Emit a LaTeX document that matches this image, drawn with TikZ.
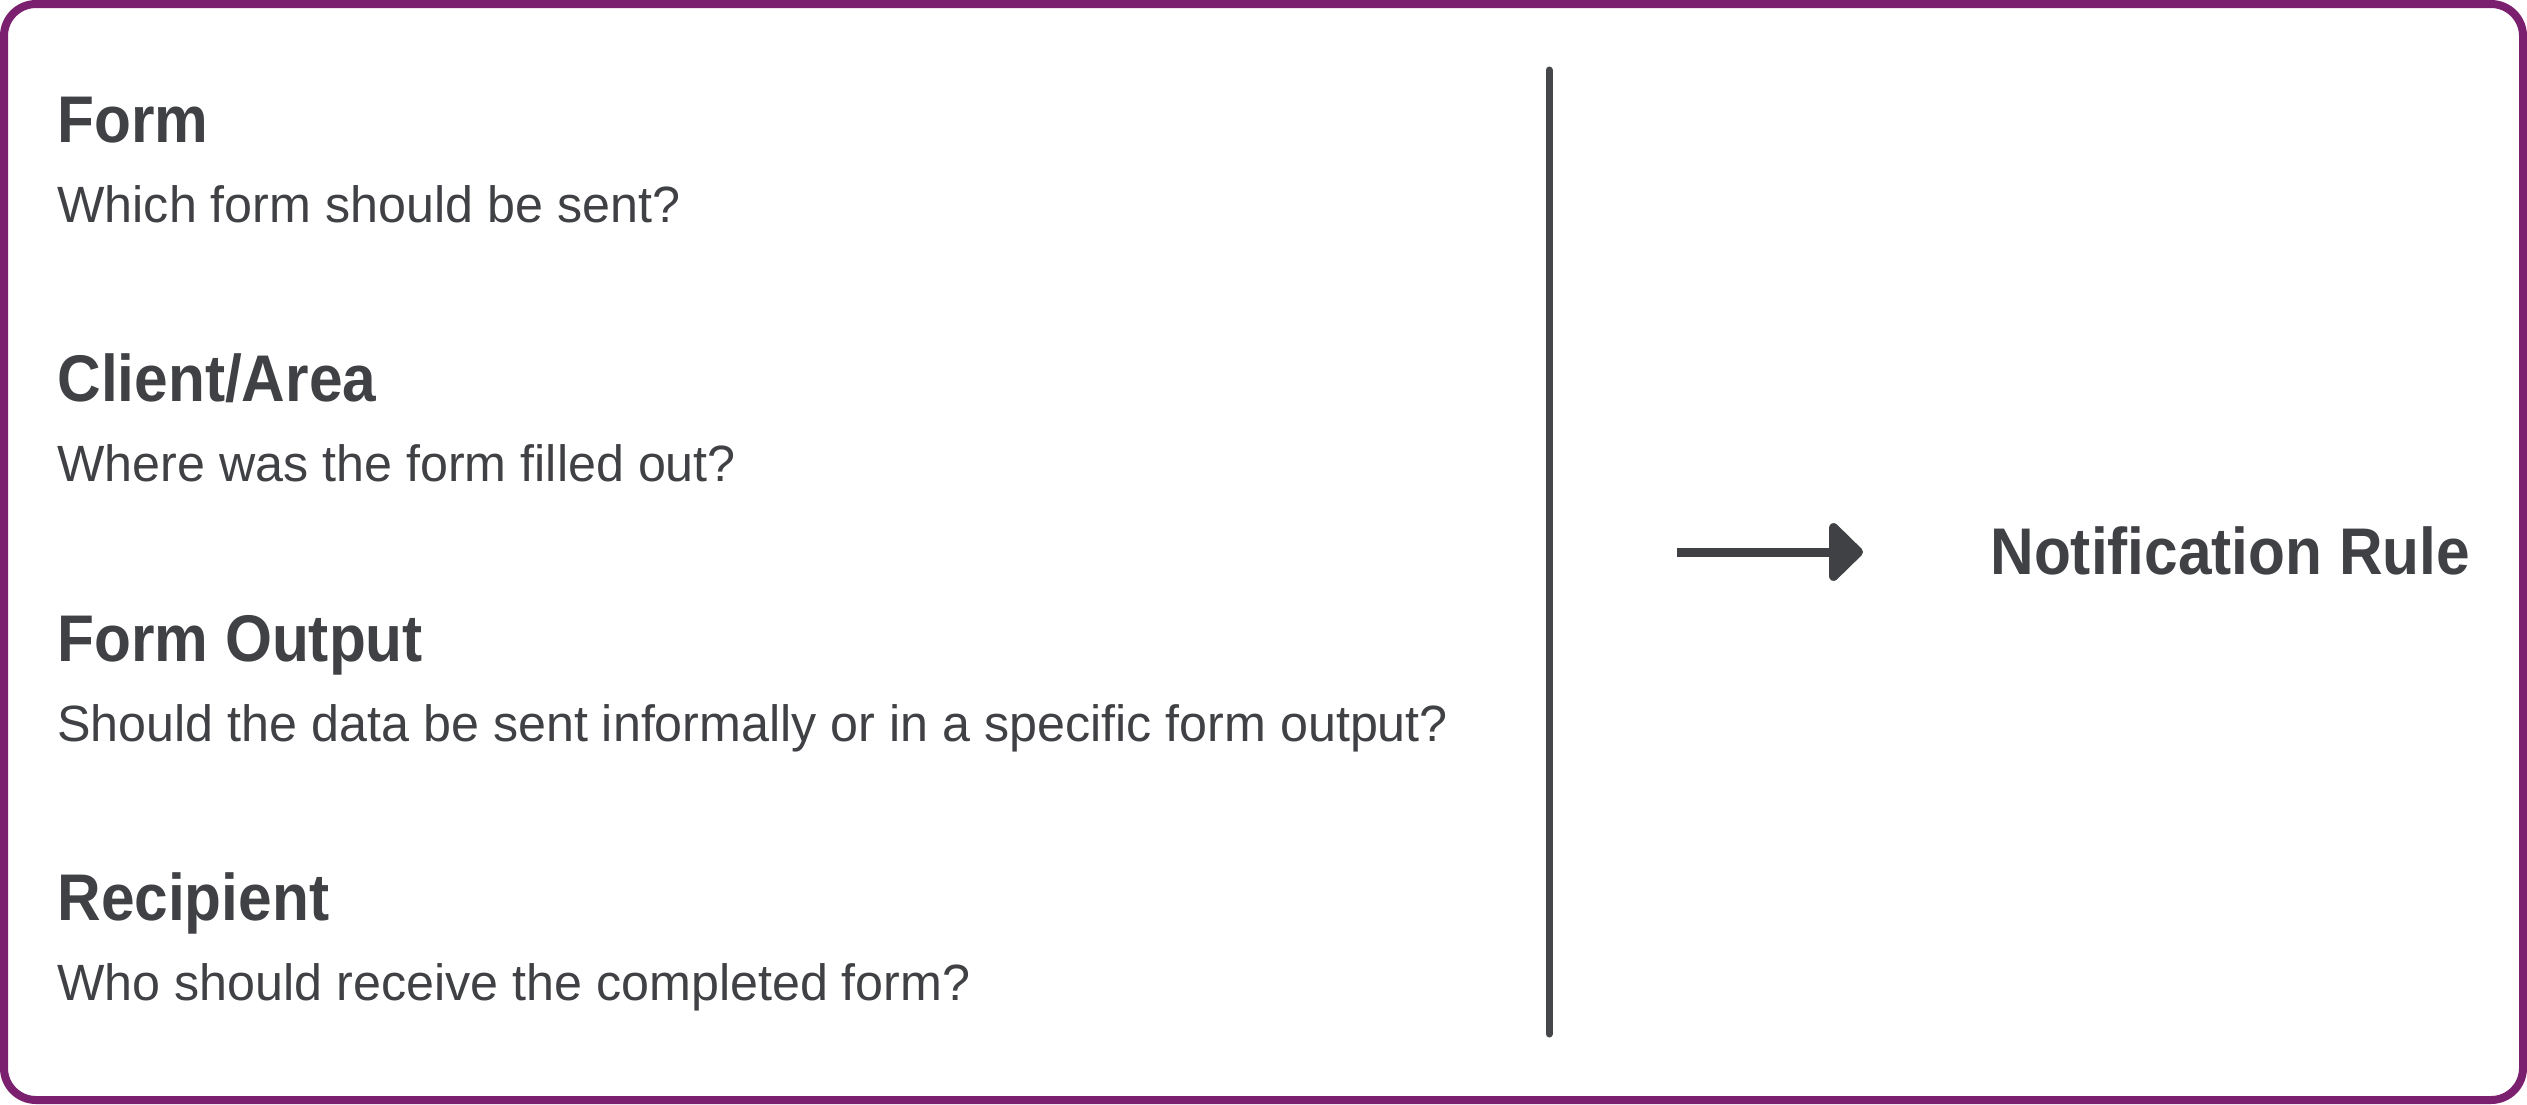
\documentclass[tikz,border=0pt]{standalone}
\usepackage{fontspec}
\setmainfont{Liberation Sans}[FakeStretch=0.985,BoldFeatures={FakeStretch=0.915}]
\usetikzlibrary{arrows.meta}
\definecolor{frame}{HTML}{7B1F6F}
\definecolor{ink}{HTML}{404145}
\definecolor{rule}{HTML}{46474B}
\tikzset{
  head/.style={anchor=base west,inner sep=0pt,text=ink,font=\bfseries\fontsize{33}{40}\selectfont},
  sub/.style={anchor=base west,inner sep=0pt,text=ink,font=\fontsize{25.5}{31}\selectfont},
  result/.style={anchor=base west,inner sep=0pt,text=ink,font=\bfseries\fontsize{33}{40}\selectfont},
  divider/.style={draw=rule,line width=3.5pt,line cap=round},
  flow/.style={draw=ink,line width=4.5pt,-{Triangle[length=18pt,width=34pt,round]}}
}
\begin{document}
\begin{tikzpicture}[x=0.5pt,y=-0.5pt]
\useasboundingbox (0,0) rectangle (2527,1104);
\draw[frame,line width=4pt,rounded corners=16pt,fill=white] (4,4) rectangle (2523,1100);
\node[head] (h1) at (57,142) {Form};
\node[sub]  (s1) at (57,222) {Which form should be sent?};
\node[head] (h2) at (57,401.5) {Client/Area};
\node[sub]  (s2) at (57,481.5) {Where was the form filled out?};
\node[head] (h3) at (57,661) {Form Output};
\node[sub]  (s3) at (57,741) {Should the data be sent informally or in a specific form output?};
\node[head] (h4) at (57,920.5) {Recipient};
\node[sub]  (s4) at (57,1000.5) {Who should receive the completed form?};
\coordinate (dtop) at (1549,70);
\coordinate (dbot) at (1549,1034);
\draw[divider] (dtop) -- (dbot);
\coordinate (astart) at (1677,552);
\coordinate (aend) at (1863,552);
\draw[flow] (astart) -- (aend);
\node[result] (nr) at (1990,574) {Notification Rule};
\end{tikzpicture}
\end{document}
